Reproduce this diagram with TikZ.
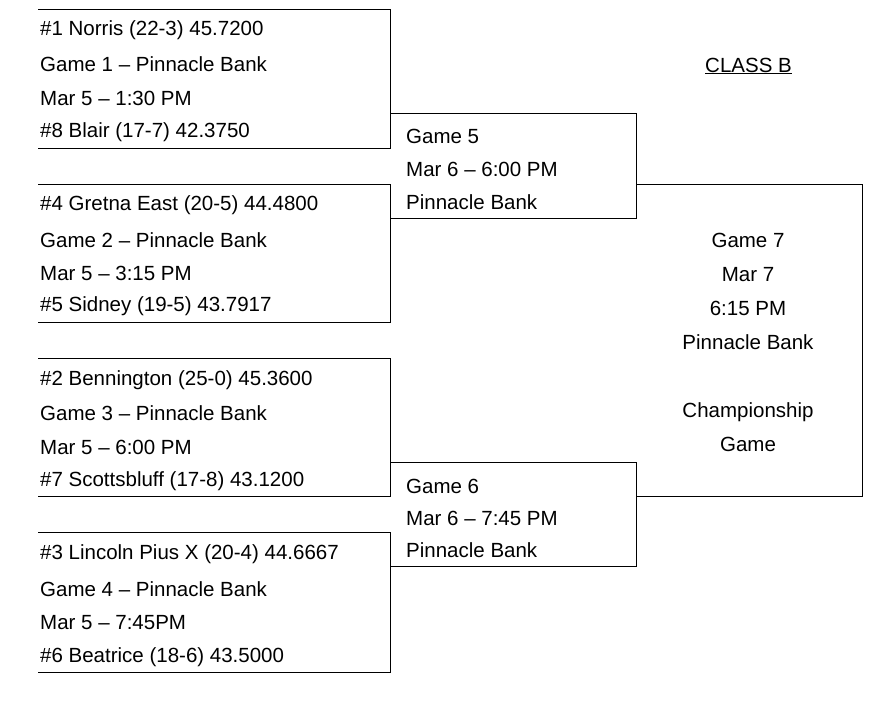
\documentclass[tikz,border=0pt]{standalone}
\usepackage{fontspec}
\setmainfont{Liberation Sans}
\begin{document}
\begin{tikzpicture}[x=1pt,y=-1pt,
  t/.style={anchor=west,inner sep=0pt,font=\fontsize{20.5}{22}\selectfont},
  c/.style={align=center,inner sep=0pt,font=\fontsize{20.5}{34}\selectfont},
  ln/.style={line width=1pt}]
\useasboundingbox (0,0) rectangle (885,701);
% brackets
\draw[ln] (38,10) -- (390,10) -- (390,148) -- (38,148);
\draw[ln] (38,184) -- (390,184) -- (390,322) -- (38,322);
\draw[ln] (38,358) -- (390,358) -- (390,496) -- (38,496);
\draw[ln] (38,532) -- (390,532) -- (390,672) -- (38,672);
\draw[ln] (390,113) -- (636,113) -- (636,218) -- (390,218);
\draw[ln] (390,462) -- (636,462) -- (636,566) -- (390,566);
\draw[ln] (636,184) -- (862,184) -- (862,496) -- (636,496);
% texts
\node[t] (a1) at (40,30) {\#1 Norris (22-3) 45.7200};
\node[t] (a2) at (40,64) {Game 1 – Pinnacle Bank};
\node[t] (a3) at (40,98) {Mar 5 – 1:30 PM};
\node[t] (a4) at (40,132) {\#8 Blair (17-7) 42.3750};
\node[t] (b1) at (40,205) {\#4 Gretna East (20-5) 44.4800};
\node[t] (b2) at (40,240) {Game 2 – Pinnacle Bank};
\node[t] (b3) at (40,273) {Mar 5 – 3:15 PM};
\node[t] (b4) at (40,306) {\#5 Sidney (19-5) 43.7917};
\node[t] (c1) at (40,380) {\#2 Bennington (25-0) 45.3600};
\node[t] (c2) at (40,413) {Game 3 – Pinnacle Bank};
\node[t] (c3) at (40,447) {Mar 5 – 6:00 PM};
\node[t] (c4) at (40,481) {\#7 Scottsbluff (17-8) 43.1200};
\node[t] (d1) at (40,554) {\#3 Lincoln Pius X (20-4) 44.6667};
\node[t] (d2) at (40,589) {Game 4 – Pinnacle Bank};
\node[t] (d3) at (40,623) {Mar 5 – 7:45PM};
\node[t] (d4) at (40,657) {\#6 Beatrice (18-6) 43.5000};
\node[t] (e1) at (406,136) {Game 5};
\node[t] (e2) at (406,169) {Mar 6 – 6:00 PM};
\node[t] (e3) at (406,202) {Pinnacle Bank};
\node[t] (f1) at (406,486) {Game 6};
\node[t] (f2) at (406,518) {Mar 6 – 7:45 PM};
\node[t] (f3) at (406,550) {Pinnacle Bank};
\node[c] (g) at (748,342) {Game 7\\Mar 7\\6:15 PM\\Pinnacle Bank\\[34pt]Championship\\Game};
\node[t] (cl) at (705,66) {\underline{CLASS B}};
\end{tikzpicture}
\end{document}
